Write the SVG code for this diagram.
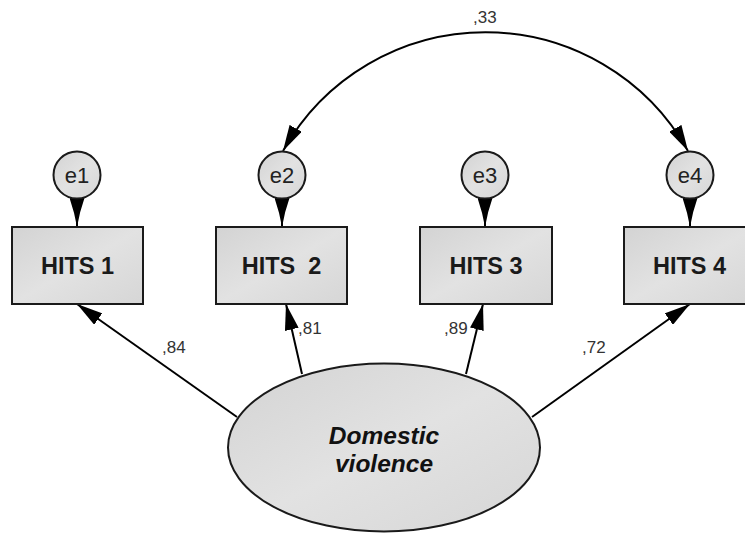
<svg xmlns="http://www.w3.org/2000/svg" width="745" height="533" viewBox="0 0 745 533">
<defs>
<linearGradient id="g" x1="0" y1="0" x2="1" y2="1">
<stop offset="0" stop-color="#d3d3d3"/>
<stop offset="0.5" stop-color="#e2e2e2"/>
<stop offset="1" stop-color="#d6d6d6"/>
</linearGradient>
<marker id="ah" viewBox="0 0 26 14" refX="26" refY="7" markerWidth="26" markerHeight="14" markerUnits="userSpaceOnUse" orient="auto-start-reverse">
<path d="M0,0 L26,7 L0,14 Z" fill="#000"/>
</marker>
<marker id="ahs" viewBox="0 0 29 15" refX="29" refY="7.5" markerWidth="29" markerHeight="15" markerUnits="userSpaceOnUse" orient="auto">
<path d="M0,0 Q14,5 29,7.5 Q14,10 0,15 Z" fill="#000"/>
</marker>
<style>
.box{fill:url(#g);stroke:#1a1a1a;stroke-width:2}
.err{fill:url(#g);stroke:#1a1a1a;stroke-width:2}
.lbl{font-family:"Liberation Sans",Arial,sans-serif;font-weight:bold;font-size:23.5px;fill:#1a1a1a;text-anchor:middle}
.elbl{font-family:"Liberation Sans",Arial,sans-serif;font-size:22px;fill:#222;text-anchor:middle}
.num{font-family:"Liberation Sans",Arial,sans-serif;font-size:17px;fill:#333}
.lat{font-family:"Liberation Sans",Arial,sans-serif;font-weight:bold;font-style:italic;font-size:24.5px;fill:#111;text-anchor:middle}
.con{stroke:#000;stroke-width:2;fill:none}
</style>
</defs>
<rect width="745" height="533" fill="#fff"/>
<g id="connectors">
<line class="con" x1="237" y1="417" x2="77" y2="304" marker-end="url(#ah)"/>
<line class="con" x1="302" y1="374" x2="286" y2="304" marker-end="url(#ah)"/>
<line class="con" x1="466" y1="374" x2="483" y2="304" marker-end="url(#ah)"/>
<line class="con" x1="532" y1="417" x2="690" y2="304" marker-end="url(#ah)"/>
<line class="con" x1="77" y1="198" x2="77" y2="227" marker-end="url(#ahs)"/>
<line class="con" x1="282" y1="198" x2="282" y2="227" marker-end="url(#ahs)"/>
<line class="con" x1="485" y1="198" x2="485" y2="227" marker-end="url(#ahs)"/>
<line class="con" x1="690" y1="198" x2="690" y2="227" marker-end="url(#ahs)"/>
<path class="con" d="M283,151 A232,232 0 0 1 688,151" marker-start="url(#ah)" marker-end="url(#ah)"/>
<text class="num" x="473" y="23">,33</text>
<text class="num" x="162" y="353">,84</text>
<text class="num" x="298" y="334">,81</text>
<text class="num" x="444" y="334">,89</text>
<text class="num" x="582" y="353">,72</text>
</g>
<g id="e1"><circle class="err" cx="77" cy="175" r="23.5"/><text class="elbl" x="77" y="183">e1</text></g>
<g id="e2"><circle class="err" cx="282" cy="175" r="23.5"/><text class="elbl" x="282" y="183">e2</text></g>
<g id="e3"><circle class="err" cx="485" cy="175" r="23.5"/><text class="elbl" x="485" y="183">e3</text></g>
<g id="e4"><circle class="err" cx="690" cy="175" r="23.5"/><text class="elbl" x="690" y="183">e4</text></g>
<g id="hits1"><rect class="box" x="12" y="227" width="131" height="77"/><text class="lbl" x="77.5" y="274">HITS 1</text></g>
<g id="hits2"><rect class="box" x="216" y="227" width="131" height="77"/><text class="lbl" x="281.5" y="274" xml:space="preserve" style="white-space:pre">HITS  2</text></g>
<g id="hits3"><rect class="box" x="420" y="227" width="132" height="77"/><text class="lbl" x="486" y="274">HITS 3</text></g>
<g id="hits4"><rect class="box" x="624" y="227" width="131" height="77"/><text class="lbl" x="689.5" y="274">HITS 4</text></g>
<g id="domestic_violence"><ellipse class="box" cx="384" cy="447.5" rx="156" ry="84"/><text class="lat" x="384" y="444">Domestic</text><text class="lat" x="384" y="472">violence</text></g>
</svg>
